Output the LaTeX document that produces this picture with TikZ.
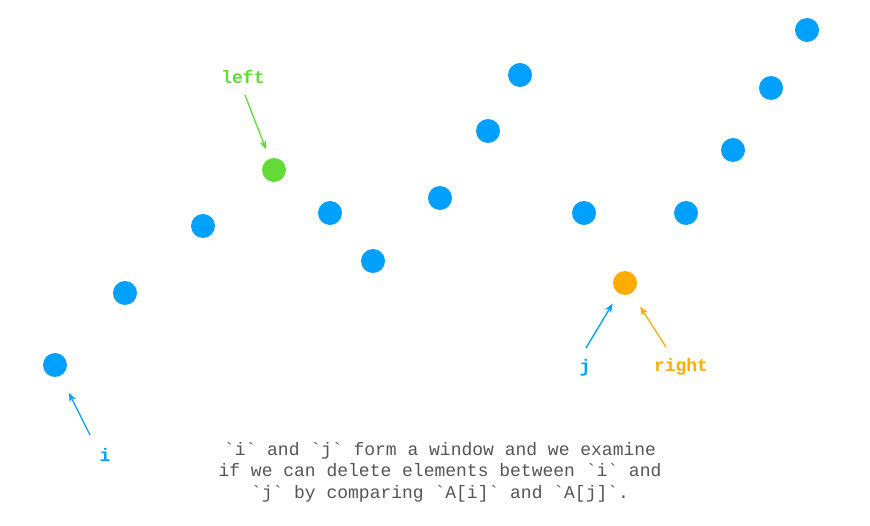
\documentclass[tikz,border=0pt]{standalone}
\usepackage{fontspec}
\setmonofont{Liberation Mono}
\usetikzlibrary{arrows.meta}
\definecolor{dotblue}{RGB}{0,160,255}
\definecolor{dotgreen}{RGB}{98,218,56}
\definecolor{dotorange}{RGB}{255,172,0}
\definecolor{txtgray}{RGB}{85,85,85}
\tikzset{
  dot/.style={circle,fill=#1,inner sep=0pt,minimum size=24pt},
  lbl/.style={font=\ttfamily\bfseries\fontsize{18}{21}\selectfont,text=#1,inner sep=0pt},
  ptr/.style={draw=#1,line width=1.3pt,-{Stealth[length=9pt,width=7pt]}}
}
\begin{document}
\begin{tikzpicture}[x=1pt,y=-1pt]
\useasboundingbox (0,0) rectangle (870,526);
\node[dot=dotblue] (d1) at (55,365) {};
\node[dot=dotblue] (d2) at (125,293) {};
\node[dot=dotblue] (d3) at (203,226) {};
\node[dot=dotgreen] (d4) at (274,170) {};
\node[dot=dotblue] (d5) at (330,213) {};
\node[dot=dotblue] (d6) at (373,261) {};
\node[dot=dotblue] (d7) at (440,198) {};
\node[dot=dotblue] (d8) at (488,131) {};
\node[dot=dotblue] (d9) at (520,75) {};
\node[dot=dotblue] (d10) at (584,213) {};
\node[dot=dotorange] (d11) at (625,283) {};
\node[dot=dotblue] (d12) at (686,213) {};
\node[dot=dotblue] (d13) at (733,150) {};
\node[dot=dotblue] (d14) at (771,88) {};
\node[dot=dotblue] (d15) at (807,30) {};

\node[lbl=dotgreen] (lleft) at (243,77) {left};
\node[lbl=dotblue] (li) at (105,455) {i};
\node[lbl=dotblue] (lj) at (585,368) {j};
\node[lbl=dotorange] (lright) at (681,367) {right};

\coordinate (tleft) at (245,95);
\coordinate (ti) at (90,435);
\coordinate (tj) at (586,348);
\coordinate (tright) at (666,347);

\draw[ptr=dotgreen,shorten >=22pt] (tleft) -- (d4.center);
\draw[ptr=dotblue,shorten >=31pt] (ti) -- (d1.center);
\draw[ptr=dotblue,shorten >=24pt] (tj) -- (d11.center);
\draw[ptr=dotorange,shorten >=28pt] (tright) -- (d11.center);

\node[font=\ttfamily\fontsize{18}{21.5}\selectfont,text=txtgray,align=center,inner sep=0pt] (caption) at (440,472)
{`i` and `j` form a window and we examine\\if we can delete elements between `i` and\\`j` by comparing `A[i]` and `A[j]`.};
\end{tikzpicture}
\end{document}
